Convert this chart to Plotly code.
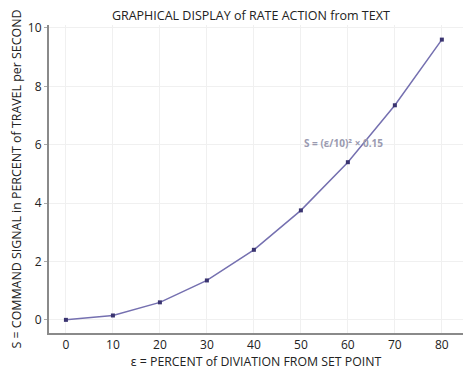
import plotly.graph_objects as go

deviation = [0, 10, 20, 30, 40, 50, 60, 70, 80]
signal = [0, 0.15, 0.6, 1.35, 2.4, 3.75, 5.4, 7.35, 9.6]
x_ticks = [0, 10, 20, 30, 40, 50, 60, 70, 80]
y_ticks = [0, 2, 4, 6, 8, 10]

fig = go.Figure()
fig.add_trace(go.Scatter(
    x=deviation, y=signal, mode="lines+markers",
    line=dict(color="#7570b0", width=1.5),
    marker=dict(symbol="square", size=4, color="#3a3470"),
    showlegend=False,
))

fig.add_annotation(x=59, y=6.05, text="<b>S = (ε/10)² × 0.15</b>",
                   showarrow=False, xanchor="center", yanchor="middle",
                   font=dict(size=10, color="#9a9ab0", family="Open Sans"))

fig.update_layout(
    width=467, height=364,
    margin=dict(l=41, r=12, t=17, b=39),
    paper_bgcolor="white", plot_bgcolor="white",
    font=dict(family="Open Sans", size=12, color="#222222"),
    title=dict(text="GRAPHICAL DISPLAY of RATE ACTION from TEXT",
               x=0.52, xanchor="center", y=0.978, yanchor="middle",
               font=dict(size=12.5, color="#222222")),
)
fig.update_xaxes(
    range=[-3.6, 84.5], tickvals=x_ticks, showgrid=True, gridcolor="#f0f0f0",
    zeroline=False, showline=True, linecolor="#8a8a8a", linewidth=2,
    ticks="", ticklabelstandoff=0, automargin=False,
    title=dict(text="ε = PERCENT of DIVIATION FROM SET POINT", standoff=0,
               font=dict(size=12.3)),
)
fig.update_yaxes(
    range=[-0.45, 10.1], tickvals=y_ticks, showgrid=True, gridcolor="#f0f0f0",
    zeroline=False, showline=True, linecolor="#8a8a8a", linewidth=2,
    ticks="outside", ticklen=3, tickcolor="#aaaaaa", automargin=False,
    title=dict(text="S = COMMAND SIGNAL in PERCENT of TRAVEL per SECOND", standoff=4,
               font=dict(size=12.4)),
)

fig.write_html("out.html")
